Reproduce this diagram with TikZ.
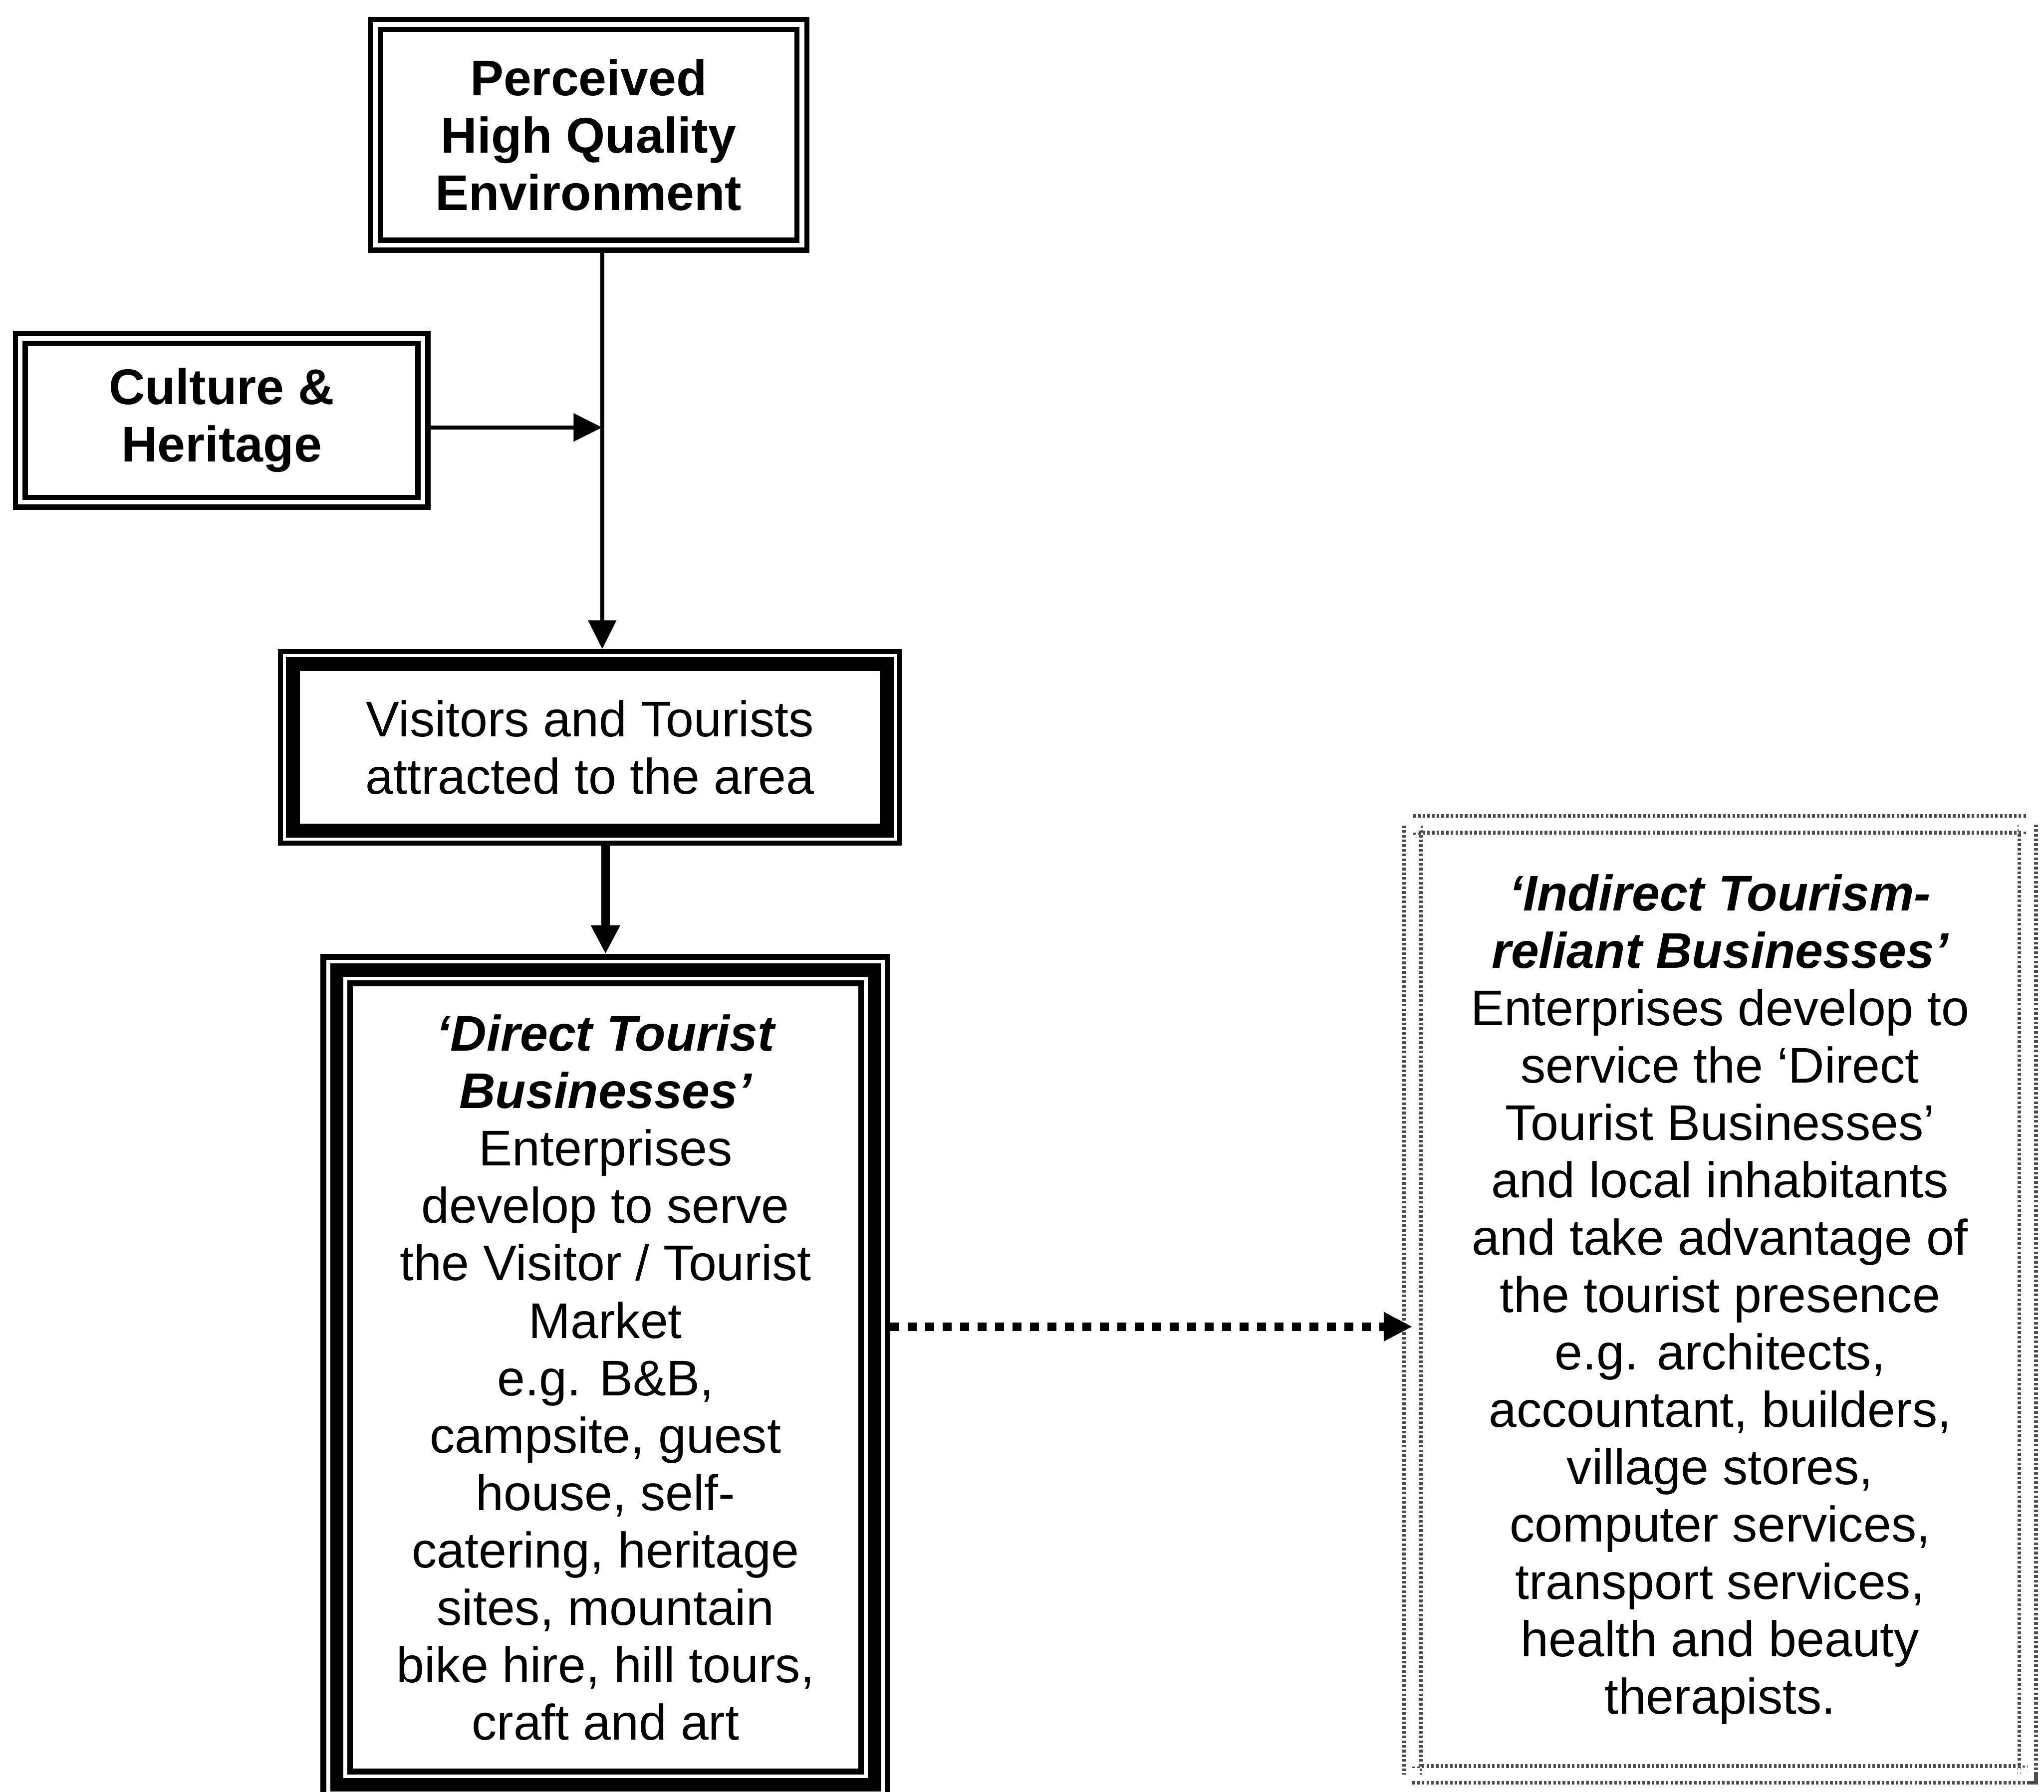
\documentclass[tikz,border=0pt]{standalone}
\usepackage{fontspec}
\setmainfont{Liberation Sans}
\usetikzlibrary{arrows.meta}
\newcommand\boxfont{\fontsize{19.3}{22.1}\selectfont}
\newcommand\hd[1]{{\bfseries\itshape #1}}

\begin{document}
\begin{tikzpicture}[>={Triangle[length=11bp,width=10.5bp]},line join=miter,
  txt/.style={font=\boxfont,align=center,inner sep=0pt},
  dbox/.style={txt,draw,double,line width=2bp,double distance=1.8bp,outer sep=2.9bp},
  heavybox/.style={txt,draw,fill=white,line width=5.4bp,outer sep=5.8bp,
    preaction={draw,double,line width=1.9bp,double distance=7.7bp}},
  triplebox/.style={txt,draw,line width=5.1bp,outer sep=6.2bp,
    preaction={draw,double,line width=2.2bp,double distance=8bp}},
  grainbox/.style={txt,draw=black!70,double,line width=1.4bp,double distance=5bp,
    dash pattern=on 1bp off 0.8bp,outer sep=0bp},
  ]
\useasboundingbox (0,0) rectangle (784bp,687.5bp);
%%
\node (env) at (225.75bp,635.75bp) [dbox,font=\boxfont\bfseries,minimum width=163.7bp,minimum height=84.7bp] {Perceived\\High Quality\\Environment};
  \node (cult) at (85bp,526.25bp) [dbox,font=\boxfont\bfseries,minimum width=154.4bp,minimum height=62.9bp] {Culture \&\\Heritage};
  \node (vis) at (226.25bp,400.75bp) [heavybox,minimum width=227.9bp,minimum height=63.9bp] {Visitors and Tourists\\attracted to the area};
  \node (dtb) at (232.25bp,159bp) [triplebox,minimum width=206.15bp,minimum height=312.6bp] {\hd{‘Direct Tourist}\\\hd{Businesses’}\\Enterprises\\develop to serve\\the Visitor / Tourist\\Market\\e.g. B\&B,\\campsite, guest\\house, self-\\catering, heritage\\sites, mountain\\bike hire, hill tours,\\craft and art};
  \node (itb) at (659.75bp,189bp) [grainbox,minimum width=236bp,minimum height=364.5bp] {\hd{‘Indirect Tourism-}\\\hd{reliant Businesses’}\\Enterprises develop to\\service the ‘Direct\\Tourist Businesses’\\and local inhabitants\\and take advantage of\\the tourist presence\\e.g. architects,\\accountant, builders,\\village stores,\\computer services,\\transport services,\\health and beauty\\therapists.};
  \coordinate (junc) at (231bp,523.5bp);
  \coordinate (lvl) at (0bp,178.5bp);
  \draw [->,line width=1.6bp] (env.south -| junc) -- (vis.north -| junc);
  \draw [->,line width=1.6bp] (cult.east |- junc) -- (junc);
  \draw [->,line width=3.2bp] (vis.south -| dtb.north) -- (dtb.north);
  \draw [->,line width=3.2bp,dash pattern=on 3.4bp off 3.3bp] (dtb.east |- lvl) -- (itb.west |- lvl);
%
\end{tikzpicture}
\end{document}
